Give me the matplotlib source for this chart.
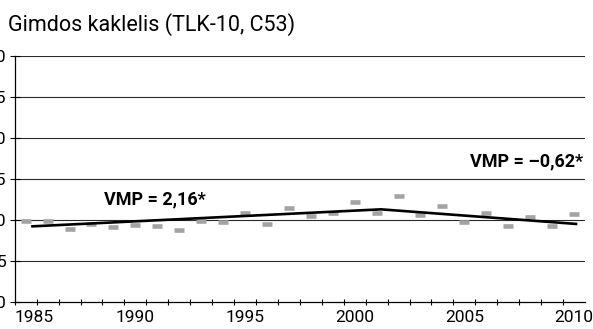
import matplotlib
matplotlib.use('Agg')
import matplotlib.pyplot as plt
from matplotlib.transforms import ScaledTranslation

# stebeti rodikliai, 1985-2010
years = list(range(1985, 2011))
rates = [9.88, 9.88, 8.90, 9.51, 9.18, 9.39, 9.27, 8.78, 9.92, 9.80,
         10.86, 9.55, 11.51, 10.53, 10.86, 12.21, 10.90, 12.94, 10.62, 11.75,
         9.76, 10.86, 9.27, 10.37, 9.31, 10.74]

# joinpoint trendas
trend_years = [1985.25, 2001.2, 2010.15]
trend_vals = [9.22, 11.30, 9.51]

y_ticks = [0, 5, 10, 15, 20, 25, 30]
x_labels = [1985, 1990, 1995, 2000, 2005, 2010]

plt.rcParams['font.family'] = ['Roboto', 'DejaVu Sans']

W, H = 593, 329
fig = plt.figure(figsize=(W / 100, H / 100), dpi=100)
ax = fig.add_axes([14.7 / W, (H - 302) / H, (585 - 14.7) / W, (302 - 56) / H])

for v in y_ticks[1:]:
    ax.axhline(v, color='#2a2a2a', lw=0.8, zorder=1)

ax.plot(years, rates, linestyle='none', marker='_', markersize=6.6,
        markeredgewidth=3.3, color='#a3a3a3', zorder=3)
ax.plot(trend_years, trend_vals, color='black', lw=1.9, zorder=4,
        solid_capstyle='butt')

ax.set_xlim(1984.55, 2010.5)
ax.set_ylim(0, 30)

ax.set_xticks(x_labels)
ax.set_xticklabels([str(x) for x in x_labels], fontsize=12.5)
ax.set_xticks([y + 0.5 for y in range(1984, 2010)], minor=True)
ax.tick_params(axis='x', which='major', length=0, pad=6)
ax.tick_params(axis='x', which='minor', direction='inout', length=4.5, width=0.8)
# Excel pushes the first label inward a bit
first = ax.get_xticklabels()[0]
first.set_transform(first.get_transform() + ScaledTranslation(8 / 100, 0, fig.dpi_scale_trans))

ax.set_yticks(y_ticks)
ax.set_yticklabels([str(v) for v in y_ticks], fontsize=12.5)
ax.tick_params(axis='y', direction='inout', length=6.5, width=0.8, pad=3)

for s in ['top', 'right']:
    ax.spines[s].set_visible(False)
for s in ['left', 'bottom']:
    ax.spines[s].set_linewidth(0.9)
    ax.spines[s].set_color('black')

ax.text(1990.9, 12.5, 'VMP = 2,16*', fontsize=13, fontweight='bold',
        ha='center', va='center')
ax.text(2010.4, 17.1, 'VMP = \u20130,62*', fontsize=13, fontweight='bold',
        ha='right', va='center')

fig.text(8 / W, 1 - 25 / H, 'Gimdos kaklelis (TLK-10, C53)', fontsize=15.5,
         ha='left', va='center')

fig.savefig('out.png', dpi=100)
